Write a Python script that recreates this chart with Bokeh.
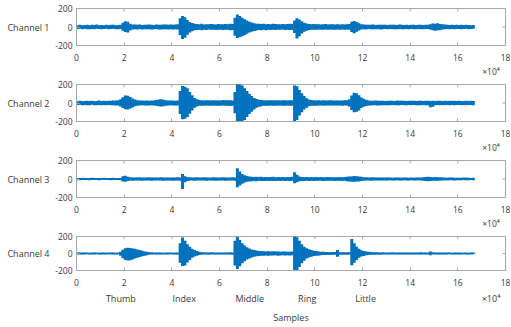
import numpy as np
from bokeh.plotting import figure
from bokeh.layouts import column
from bokeh.models import Range1d, FixedTicker, LinearAxis, ColumnDataSource
from bokeh.embed import file_html
from bokeh.resources import INLINE

# ---------------- data (envelope of each EMG channel, 1000-sample bins) ----------------
BIN = 1000

ch1_hi = [20,24,18,22,25,19,23,21,26,20, 22,19,24,21,23,25,20,22,24,45,
          62,58,35,28,26,24,27,22,25,23, 26,24,22,27,25,23,26,28,24,27,
          25,28,30,95,120,105,75,55,42,35, 32,30,34,28,31,29,33,30,28,32,
          30,29,33,31,35,33,100,135,120,100, 85,70,58,48,40,36,34,32,35,31,
          33,30,34,32,29,31,33,30,32,35, 33,70,94,82,62,46,38,33,30,32,
          29,31,28,30,32,27,29,31,28,30, 27,29,28,30,32,58,65,55,40,30,
          26,24,25,23,26,22,24,25,23,24, 22,25,23,24,22,26,23,21,24,22,
          23,25,22,24,23,21,25,24,30,38, 36,40,32,30,26,23,22,24,21,23,
          22,24,21,23,22,20,22]
ch1_lo = [22,19,24,20,23,25,21,24,19,22, 24,21,20,25,22,19,23,24,21,40,
          55,60,38,26,24,27,22,26,23,25, 24,27,25,22,26,28,24,23,27,25,
          27,24,28,90,130,115,85,60,45,36, 33,30,34,29,32,28,31,30,33,29,
          30,33,31,29,34,32,95,120,112,100, 88,72,60,50,42,38,33,35,31,34,
          30,32,29,33,31,30,28,32,31,33, 33,65,125,100,70,50,40,32,31,29,
          30,28,31,29,27,30,28,29,31,27, 29,27,30,28,30,55,68,52,38,28,
          24,26,22,25,23,24,22,26,24,21, 24,22,25,23,24,21,23,25,22,24,
          21,23,24,22,25,23,22,21,28,35, 40,34,36,28,24,22,23,21,24,22,
          21,23,22,20,23,21,20]

ch2_hi = [20,23,19,22,25,21,24,20,22,26, 22,24,21,25,23,27,26,30,40,62,
          82,78,65,50,38,30,28,26,25,27, 24,26,28,32,38,40,36,30,28,26,
          26,25,27,130,183,175,160,120,85,55, 40,32,30,28,31,29,27,30,28,30,
          28,32,29,31,30,28,120,210,205,190, 160,130,100,75,55,42,35,32,30,28,
          30,29,31,27,30,28,29,31,28,30, 30,190,180,140,105,75,52,38,32,30,
          28,29,27,30,28,26,29,27,28,26, 28,27,30,29,40,80,110,105,85,60,
          45,35,28,25,24,26,23,25,24,22, 25,23,24,22,26,24,23,25,22,24,
          23,24,22,25,23,22,24,23,21,24, 22,24,23,21,24,22,23,21,24,22,
          23,21,22,24,22,23,21]
ch2_lo = [22,20,24,21,23,25,20,23,24,21, 23,21,25,22,24,23,28,27,38,55,
          68,70,60,48,36,30,27,25,28,26, 27,25,26,30,35,38,34,29,27,25,
          27,26,28,120,176,170,150,115,80,52, 38,30,31,29,28,30,29,27,30,29,
          31,28,30,29,32,30,110,215,210,200, 185,150,120,95,70,52,40,34,30,31,
          29,28,31,30,28,27,30,29,28,30, 31,196,185,135,100,70,50,36,31,29,
          30,27,28,29,27,28,26,28,27,28, 26,29,27,28,38,75,100,95,80,55,
          40,32,27,26,25,24,26,23,24,25, 23,25,22,24,23,25,22,24,23,22,
          24,22,25,23,24,22,25,23,45,40, 23,22,24,22,23,21,24,22,23,21,
          22,24,21,23,22,21,23]

ch3_hi = [12,10,13,11,12,10,14,11,12,10, 11,13,10,12,11,13,12,10,11,30,
          34,25,18,16,17,15,18,16,17,15, 18,16,17,15,16,18,15,17,16,15,
          17,16,18,17,54,30,20,18,17,16, 18,17,15,18,16,17,15,18,16,17,
          15,18,16,17,15,18,16,115,80,55, 40,32,28,25,22,24,21,23,20,22,
          20,21,23,20,22,19,21,20,22,21, 23,72,45,28,22,20,21,19,22,20,
          21,19,22,20,18,21,19,20,18,19, 21,20,22,24,26,28,32,30,28,25,
          20,18,17,16,18,15,17,16,15,17, 15,16,14,17,15,16,14,15,16,14,
          15,14,16,15,17,20,22,24,22,20, 22,20,18,16,15,14,16,15,14,13,
          14,13,15,14,13,12,13]
ch3_lo = [11,13,10,12,11,13,10,12,11,13, 12,10,12,11,13,11,10,12,13,28,
          30,22,17,18,16,17,15,18,16,17, 15,18,16,17,15,16,18,15,17,16,
          18,15,17,20,108,35,21,17,16,18, 16,15,17,16,18,15,17,16,18,15,
          17,16,18,15,17,16,18,90,70,50, 38,30,26,24,21,23,20,22,21,20,
          22,20,21,22,19,21,20,22,20,22, 20,47,35,25,21,22,20,21,19,21,
          19,20,18,21,20,18,20,19,21,20, 18,21,20,23,26,30,31,28,26,22,
          19,17,16,18,15,17,16,15,17,15, 16,14,15,16,14,15,16,14,15,16,
          14,15,16,14,16,19,22,23,21,19, 20,18,17,15,14,15,13,14,15,13,
          13,14,12,14,13,12,13]

ch4_hi = [14,12,13,11,12,10,13,11,12,10, 11,12,10,13,11,12,10,11,22,45,
          62,68,66,60,55,48,40,32,25,20, 16,14,13,12,11,13,10,12,11,12,
          10,12,11,120,187,150,110,80,55,40, 28,20,16,14,13,12,14,12,13,11,
          12,13,11,12,14,13,150,195,160,120, 95,75,60,48,40,34,30,28,26,25,
          27,24,26,23,25,22,24,23,21,22, 24,200,190,150,110,80,62,50,40,32,
          28,25,22,20,18,17,16,18,17,40, 16,15,16,14,15,170,120,80,55,38,
          30,25,20,18,16,15,14,13,14,12, 13,12,14,11,13,12,11,13,12,11,
          12,13,11,12,14,12,13,11,25,14, 12,13,11,12,13,11,12,10,12,11,
          12,10,11,12,10,11,12]
ch4_lo = [12,13,11,12,10,13,11,12,10,12, 13,11,12,10,12,11,13,12,25,55,
          75,83,78,70,60,50,42,33,26,20, 15,13,12,13,11,12,13,11,12,10,
          12,11,13,110,148,140,105,75,50,35, 25,18,15,13,12,14,11,13,12,13,
          11,12,13,11,12,14,140,183,150,115, 90,70,58,46,38,32,28,26,25,24,
          25,23,24,22,26,23,21,24,22,23, 22,210,205,160,115,85,60,48,38,30,
          26,23,21,19,18,16,17,15,16,38, 15,16,14,15,13,137,110,75,50,35,
          28,22,18,16,15,14,13,14,12,13, 12,13,11,12,11,13,12,11,12,13,
          11,12,13,11,12,13,11,12,22,13, 12,11,13,12,11,12,10,12,11,12,
          11,12,10,11,12,11,10]

channel_names = ["Channel 1", "Channel 2", "Channel 3", "Channel 4"]
channel_hi = [ch1_hi, ch2_hi, ch3_hi, ch4_hi]
channel_lo = [ch1_lo, ch2_lo, ch3_lo, ch4_lo]

xtick_values = [0, 20000, 40000, 60000, 80000, 100000, 120000, 140000, 160000, 180000]
xtick_labels = ["0", "2", "4", "6", "8", "10", "12", "14", "16", "18"]
ytick_values = [-200, 0, 200]
ytick_labels = ["-200", "0", "200"]
exponent_label = "×10⁴"

fingers = ["Thumb", "Index", "Middle", "Ring", "Little"]
finger_x = [18600, 45200, 72700, 96800, 121300]
xlabel = "Samples"

# ---------------- style / layout ----------------
BLUE = "#0072BD"
GRAY = "#a8a8a8"
TXT = "#3a3a3a"
FONT = "Open Sans"
W = 510
BL, BR = 76, 5
FW = W - BL - BR
FH = 38
X0, X1 = 0, 180000
Y0, Y1 = -200, 200
XS = (X1 - X0) / FW   # data units per pixel
YS = (Y1 - Y0) / FH
EXP_X = int(round(X1 - 14.5 * XS))   # centre of the x10^4 note, 14.5 px left of the box edge

borders = [(8, 33), (5, 33), (5, 33), (5, 52)]  # (top, bottom)


def text_axis(ticks, labels, standoff, size="9px"):
    ax = LinearAxis(ticker=FixedTicker(ticks=ticks),
                    major_label_overrides={t: s for t, s in zip(ticks, labels)},
                    axis_line_color=None, major_tick_line_color=None, minor_tick_line_color=None,
                    major_tick_in=0, major_tick_out=0, major_label_standoff=standoff,
                    major_label_text_font=FONT, major_label_text_font_size=size,
                    major_label_text_color=TXT)
    return ax


figs = []
for i, name in enumerate(channel_names):
    last = i == len(channel_names) - 1
    bt, bb = borders[i]
    p = figure(width=W, height=bt + FH + bb, output_backend="svg", toolbar_location=None,
               x_range=Range1d(X0, X1), y_range=Range1d(Y0, Y1),
               min_border_left=BL, min_border_right=BR, min_border_top=bt, min_border_bottom=bb)
    hi = np.array(channel_hi[i], dtype=float)
    lo = np.array(channel_lo[i], dtype=float)
    x = np.arange(len(hi)) * BIN + BIN / 2
    src = ColumnDataSource(dict(x=x, top=hi, bot=-lo))
    p.segment(x0="x", y0="bot", x1="x", y1="top", source=src,
              line_color=BLUE, line_width=3, line_cap="butt")

    p.xgrid.visible = False
    p.ygrid.visible = False
    p.outline_line_color = GRAY
    p.outline_line_width = 1
    p.background_fill_color = "white"
    p.border_fill_color = "white"

    p.xaxis.ticker = FixedTicker(ticks=xtick_values)
    p.xaxis.major_label_overrides = {v: t for v, t in zip(xtick_values, xtick_labels)}
    p.yaxis.ticker = FixedTicker(ticks=ytick_values)
    p.yaxis.major_label_overrides = {v: t for v, t in zip(ytick_values, ytick_labels)}
    for ax in (p.xaxis[0], p.yaxis[0]):
        ax.axis_line_color = GRAY
        ax.major_tick_line_color = GRAY
        ax.major_tick_in = 3
        ax.major_tick_out = 0
        ax.minor_tick_line_color = None
        ax.major_label_text_font = FONT
        ax.major_label_text_font_size = "8.5px"
        ax.major_label_text_color = TXT
    p.xaxis.major_label_standoff = 8
    p.yaxis.major_label_standoff = 4

    # inward ticks on the top and right edges of the box
    p.segment(x0=xtick_values, y0=[Y1] * len(xtick_values), x1=xtick_values,
              y1=[Y1 - 3 * YS] * len(xtick_values), line_color=GRAY, line_width=1)
    p.segment(x0=[X1] * len(ytick_values), y0=ytick_values, x1=[X1 - 3 * XS] * len(ytick_values),
              y1=ytick_values, line_color=GRAY, line_width=1)

    # channel name, horizontal, left of the tick labels
    p.add_layout(text_axis([0], [name], 3), "left")

    # second row under the x axis: x10^4 note (and finger names on the last panel)
    if last:
        ax2 = text_axis(finger_x + [EXP_X], fingers + [exponent_label], 3)
        ax2.axis_label = xlabel
        ax2.axis_label_standoff = 3
        ax2.axis_label_text_font = FONT
        ax2.axis_label_text_font_size = "9px"
        ax2.axis_label_text_font_style = "normal"
        ax2.axis_label_text_color = TXT
    else:
        ax2 = text_axis([EXP_X], [exponent_label], 2, size="8.5px")
    p.add_layout(ax2, "below")
    figs.append(p)

layout = column(*figs, spacing=0)
open("out.html", "w").write(file_html(layout, INLINE))
